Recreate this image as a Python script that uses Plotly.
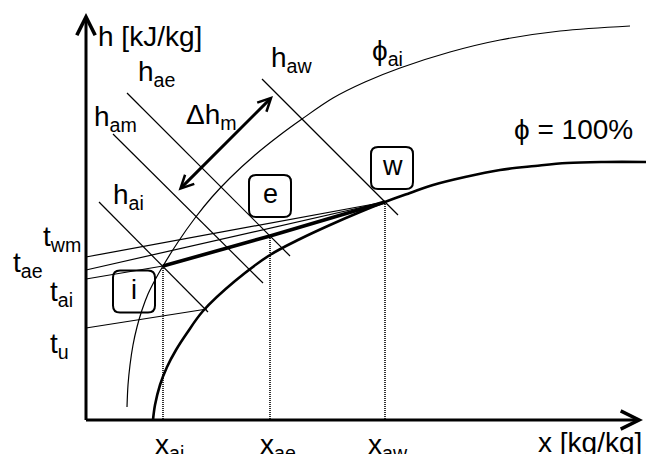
import plotly.graph_objects as go

# h-x diagram (Mollier) in schematic units: x measured to the right of the h axis,
# h measured upward from the x axis.

# saturation curve  phi = 100 %
sat_x = [67, 69, 74, 81, 90, 101, 117, 149, 184, 214, 244, 274, 299,
         324, 347, 379, 414, 449, 481, 519, 560]
sat_h = [0, 15, 35, 53, 70, 87, 109, 139, 165, 181, 195, 208, 218,
         227, 235, 243, 250, 254, 257, 258, 258]

# curve of constant relative humidity phi_ai
phi_x = [41, 42, 44, 47, 51, 56, 62, 69, 77, 92, 109, 126, 144, 169, 194, 216,
         247, 279, 314, 364, 414, 474, 544]
phi_h = [13, 35, 55, 75, 93, 110, 126, 140, 154, 178, 202, 223, 242, 265, 285, 301,
         322, 338, 352, 368, 380, 389, 394]

# state points i, e, w
state_names = ["i", "e", "w"]
state_x = [77, 184, 299]
state_h = [154, 184, 218]

# lines of constant enthalpy: name, start (x, h), end (x, h)
enthalpy_names = ["h<sub>ai</sub>", "h<sub>am</sub>", "h<sub>ae</sub>", "h<sub>aw</sub>"]
enthalpy_x0 = [13, 27, 41, 176]
enthalpy_h0 = [218, 286, 327, 341]
enthalpy_x1 = [122, 177, 204, 312]
enthalpy_h1 = [108, 137, 164, 205]

# isotherms: start on the h axis, end point
iso_names = ["t<sub>wm</sub>", "t<sub>ae</sub>", "t<sub>ai</sub>", "t<sub>u</sub>"]
iso_h0 = [163, 150, 141, 92]
iso_x1 = [299, 299, 77, 121]
iso_h1 = [218, 218, 154, 111]

# mean enthalpy difference arrow
dh_x = [91, 187]
dh_h = [228, 324]

FONT = "Liberation Sans, Arial, sans-serif"
BLACK = "#000000"
THIN = 1.2

fig = go.Figure()

def line(xs, hs, width=THIN, dash="solid", shape="linear"):
    fig.add_trace(go.Scatter(x=xs, y=hs, mode="lines", hoverinfo="skip",
                             line=dict(color=BLACK, width=width, dash=dash, shape=shape)))

# enthalpy lines
for x0, h0, x1, h1 in zip(enthalpy_x0, enthalpy_h0, enthalpy_x1, enthalpy_h1):
    line([x0, x1], [h0, h1])

# isotherms
for h0, x1, h1 in zip(iso_h0, iso_x1, iso_h1):
    line([0, x1], [h0, h1])

# phi_ai curve and saturation curve
line(phi_x, phi_h, width=THIN, shape="spline")
line(sat_x, sat_h, width=2.6, shape="spline")

# dotted verticals from the states down to the x axis
for sx, sh in zip(state_x, state_h):
    line([sx, sx], [sh, 0], width=1.6, dash="1px,1px")

# process line i -> e -> w
line(state_x, state_h, width=3.6)

# axes with arrow heads
def arrow(x0, y0, x1, y1, width, size, both=False):
    fig.add_annotation(x=x1, y=y1, ax=x0, ay=y0, xref="x", yref="y", axref="x", ayref="y",
                       text="", showarrow=True, arrowhead=5, arrowsize=size,
                       arrowwidth=width, arrowcolor=BLACK, standoff=0,
                       startarrowhead=5, startarrowsize=size, startstandoff=0,
                       arrowside="end+start" if both else "end")

arrow(0, -1.5, 0, 407, 3, 1.2)
arrow(-1.5, 0, 557, 0, 3, 1.2)
arrow(dh_x[0], dh_h[0], dh_x[1], dh_h[1], 3, 0.85, both=True)

# rounded boxes around the state letters
box_offsets = [(-29, -25.5), (0, 40), (7, 34)]
half, r = 21, 7
for name, sx, sh, (dx, dy) in zip(state_names, state_x, state_h, box_offsets):
    cx, cy = sx + dx, sh + dy
    x0, x1, y0, y1 = cx - half, cx + half, cy - half, cy + half
    path = (f"M{x0 + r},{y0} L{x1 - r},{y0} Q{x1},{y0} {x1},{y0 + r} "
            f"L{x1},{y1 - r} Q{x1},{y1} {x1 - r},{y1} L{x0 + r},{y1} "
            f"Q{x0},{y1} {x0},{y1 - r} L{x0},{y0 + r} Q{x0},{y0} {x0 + r},{y0} Z")
    fig.add_shape(type="path", path=path, xref="x", yref="y",
                  line=dict(color=BLACK, width=2), fillcolor="rgba(0,0,0,0)")
    fig.add_annotation(x=cx, y=cy + 2, xref="x", yref="y", text=name, showarrow=False,
                       xanchor="center", yanchor="middle",
                       font=dict(family=FONT, size=27, color=BLACK))

# text labels: (text, x, h) with the left edge at x
labels = [
    ("h [kJ/kg]", 11, 384),
    (enthalpy_names[2], 51, 347),
    (enthalpy_names[1], 7, 302),
    ("Δh<sub>m</sub>", 99, 304),
    (enthalpy_names[3], 184, 361),
    (enthalpy_names[0], 26, 224),
    ("ϕ<sub>ai</sub>", 285, 368),
    ("ϕ = 100%", 427, 291),
    (iso_names[0], -44, 182),
    (iso_names[1], -74, 156),
    (iso_names[2], -37, 127),
    (iso_names[3], -37, 75),
    ("x<sub>ai</sub>", 68, -26),
    ("x<sub>ae</sub>", 173, -26),
    ("x<sub>aw</sub>", 281, -26),
    ("x [kg/kg]", 451, -22),
]
for text, lx, lh in labels:
    fig.add_annotation(x=lx, y=lh, xref="x", yref="y", text=text, showarrow=False,
                       xanchor="left", yanchor="middle", borderpad=0,
                       font=dict(family=FONT, size=28, color=BLACK))

fig.update_layout(
    width=646, height=454, margin=dict(l=0, r=0, t=0, b=0),
    paper_bgcolor="white", plot_bgcolor="white", showlegend=False,
    xaxis=dict(visible=False, range=[-86, 560], fixedrange=True),
    yaxis=dict(visible=False, range=[-34, 420], fixedrange=True),
)

fig.write_html("out.html")
